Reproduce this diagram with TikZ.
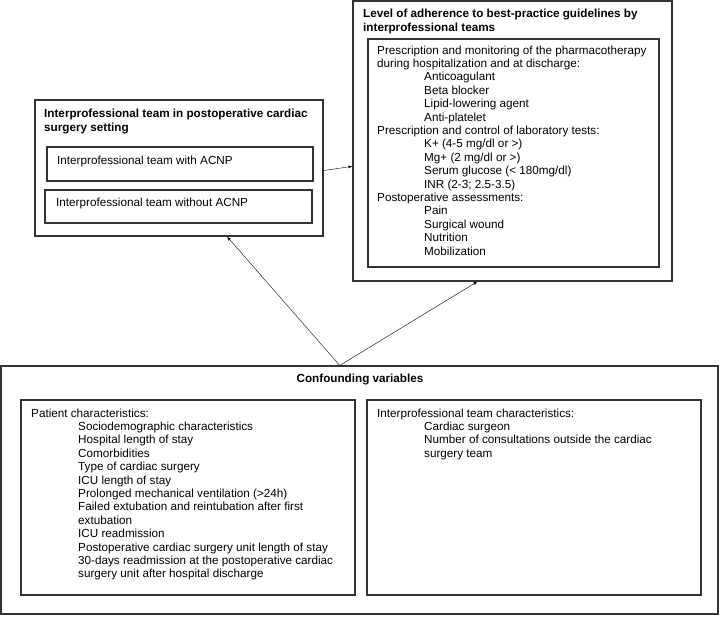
\documentclass[tikz,border=0pt]{standalone}
\usepackage{fontspec}
\setmainfont{Liberation Sans}
\newcommand{\indnt}{\hspace*{47pt}}

\begin{document}
\begin{tikzpicture}[x=1pt,y=-1pt,>=latex,
  box/.style={draw=black!80,line width=1.1pt,inner sep=0pt},
  txt/.style={anchor=base west,align=left,inner sep=0pt,font=\fontsize{11.7}{13.4}\selectfont},
  ttl/.style={txt,font=\fontsize{11.7}{14}\selectfont\bfseries}]
\useasboundingbox (0,0) rectangle (720,616);

% adherence (outcome); text nodes sit on the baseline of their last line
\node[box,minimum width=319pt,minimum height=280pt] (adh) at (512.5,141) {};
\node[box,minimum width=291pt,minimum height=228pt] (adhlist) at (513.5,153) {};
\node[ttl] (adhtitle) at (363,31) {Level of adherence to best-practice guidelines by\\interprofessional teams};
\node[txt] (adhtext) at (377,255) {Prescription and monitoring of the pharmacotherapy\\
during hospitalization and at discharge:\\
\indnt Anticoagulant\\
\indnt Beta blocker\\
\indnt Lipid-lowering agent\\
\indnt Anti-platelet\\
Prescription and control of laboratory tests:\\
\indnt K+ (4-5 mg/dl or >)\\
\indnt Mg+ (2 mg/dl or >)\\
\indnt Serum glucose (< 180mg/dl)\\
\indnt INR (2-3; 2.5-3.5)\\
Postoperative assessments:\\
\indnt Pain\\
\indnt Surgical wound\\
\indnt Nutrition\\
\indnt Mobilization};

% team (exposure)
\node[box,minimum width=288pt,minimum height=136pt] (team) at (179,168) {};
\node[box,minimum width=266pt,minimum height=34pt] (withb) at (180,164) {};
\node[box,minimum width=267pt,minimum height=33pt] (withoutb) at (178.5,206.5) {};
\node[ttl] (teamtitle) at (44,131) {Interprofessional team in postoperative cardiac\\surgery setting};
\node[txt] (withtxt) at (57,164) {Interprofessional team with ACNP};
\node[txt] (withouttxt) at (56,206) {Interprofessional team without ACNP};

% confounders
\node[box,minimum width=717pt,minimum height=248pt] (conf) at (359.5,490) {};
\node[box,minimum width=334pt,minimum height=195pt] (pat) at (188,497.5) {};
\node[box,minimum width=334pt,minimum height=195pt] (teamchar) at (534,497.5) {};
\node[ttl,anchor=base] (conftitle) at (360,382) {Confounding variables};
\node[txt] (pattxt) at (31,577.8) {Patient characteristics:\\
\indnt Sociodemographic characteristics\\
\indnt Hospital length of stay\\
\indnt Comorbidities\\
\indnt Type of cardiac surgery\\
\indnt ICU length of stay\\
\indnt Prolonged mechanical ventilation (>24h)\\
\indnt Failed extubation and reintubation after first\\
\indnt extubation\\
\indnt ICU readmission\\
\indnt Postoperative cardiac surgery unit length of stay\\
\indnt 30-days readmission at the postoperative cardiac\\
\indnt surgery unit after hospital discharge};
\node[txt] (teamchartxt) at (377,457.2) {Interprofessional team characteristics:\\
\indnt Cardiac surgeon\\
\indnt Number of consultations outside the cardiac\\
\indnt surgery team};

\draw[->] (team.-1) -- (adh.-171);
\draw[->] (conf.99) -- (team.-55);
\draw[->] (conf.99) -- (adh.-104);
\end{tikzpicture}
\end{document}
